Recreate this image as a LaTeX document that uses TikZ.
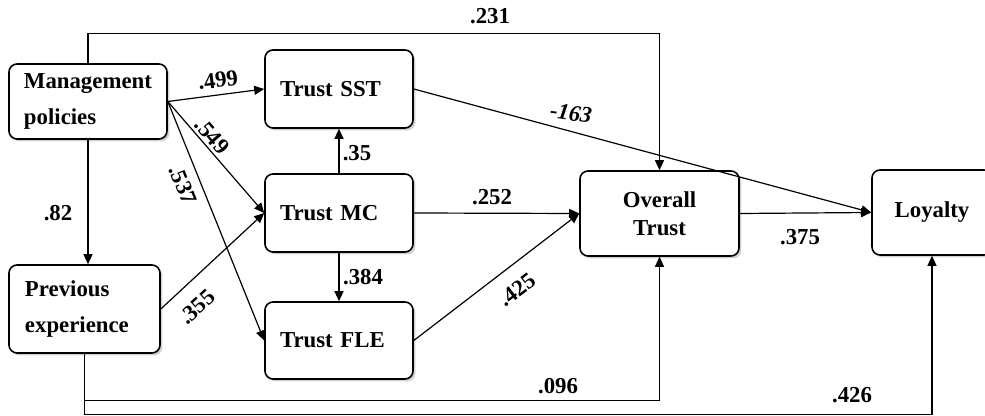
\documentclass[tikz,border=0pt]{standalone}
\usepackage{fontspec}
\setmainfont{Liberation Serif}
\usetikzlibrary{arrows.meta,shadows}

\tikzset{
  caja/.style={draw, line width=0.8pt, rounded corners=4pt, fill=white,
    drop shadow={shadow xshift=1.2pt, shadow yshift=-1.2pt, fill=black!35},
    inner xsep=7.5pt, inner ysep=0pt, font=\bfseries\fontsize{11.4}{14}\selectfont},
  flecha/.style={line width=0.6pt, -{Triangle[length=5pt,width=4.5pt]}},
  coef/.style={font=\bfseries\fontsize{11.4}{14}\selectfont, inner sep=1pt}
}

\begin{document}
\begin{tikzpicture}[x=0.5pt,y=-0.5pt]
\useasboundingbox (0,0) rectangle (985,416);

% Cajas
\node[caja, minimum width=79pt, minimum height=37.5pt, text width=64pt, align=left] (gestion) at (88,101.5) {Management\\[4pt]policies};
\node[caja, minimum width=75.5pt, minimum height=44pt, text width=59.5pt, inner xsep=8pt, align=left] (previa) at (84.5,309) {Previous\\[4pt]experience};
\node[caja, minimum width=74pt, minimum height=39pt, text width=59pt, align=left] (sst) at (339,89) {Trust SST};
\node[caja, minimum width=74pt, minimum height=39pt, text width=59pt, align=left] (mc) at (339,213) {Trust MC};
\node[caja, minimum width=74pt, minimum height=38.5pt, text width=59pt, align=left] (fle) at (339,340.5) {Trust FLE};
\node[caja, minimum width=79.5pt, minimum height=42.5pt, align=center] (global) at (659.5,213.5) {Overall\\Trust};
\node[caja, minimum width=60pt, minimum height=42.5pt, align=center] (lealtad) at (932,212.5) {Loyalty};

% Flechas
\draw[flecha] (gestion.north) -- ++(0,-30) -| (global.north);
\draw[flecha] (gestion.east) -- (sst.west);
\draw[flecha] (gestion.east) -- (mc.west);
\draw[flecha] (gestion.east) -- (fle.west);
\draw[flecha] (gestion.south) -- (gestion.south |- previa.north);
\draw[flecha] (previa.east) -- (mc.west);
\draw[flecha] (mc.north) -- (sst.south);
\draw[flecha] (mc.south) -- (fle.north);
\draw[flecha] (mc.east) -- (global.west);
\draw[flecha] (fle.east) -- (global.west);
\draw[flecha] (sst.east) -- (lealtad.west);
\draw[flecha] (global.east) -- (lealtad.west);
\draw[flecha] (previa.south) -- ++(0,47) -| (global.south);
\draw[flecha] (previa.south) -- ++(0,61) -| (lealtad.south);

% Coeficientes
\node[coef] (c231) at (490,16) {.231};
\node[coef, rotate=7] (c499) at (218,80) {.499};
\node[coef, rotate=-49] (c549) at (212,136) {.549};
\node[coef, rotate=-68] (c537) at (183,185) {.537};
\node[coef] (c82) at (58,213) {.82};
\node[coef, rotate=42] (c355) at (197,307) {.355};
\node[coef] (c35) at (357,153) {.35};
\node[coef] (c384) at (363,277) {.384};
\node[coef] (c252) at (492,197) {.252};
\node[coef, rotate=37] (c425) at (517,290) {.425};
\node[coef, rotate=-8, font=\bfseries\itshape\fontsize{11.4}{14}\selectfont] (c163) at (571,113) {-163};
\node[coef] (c375) at (800,237) {.375};
\node[coef] (c096) at (558,386) {.096};
\node[coef] (c426) at (852,395) {.426};
\end{tikzpicture}
\end{document}
